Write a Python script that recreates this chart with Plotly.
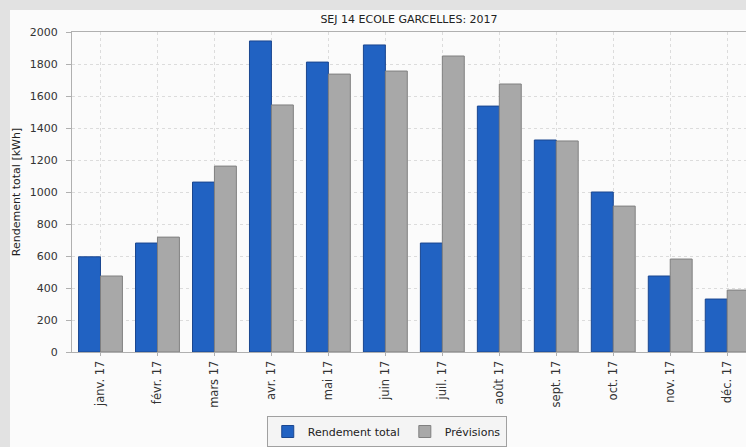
import plotly.graph_objects as go

# data
mois = ['janv. 17', 'févr. 17', 'mars 17', 'avr. 17', 'mai 17', 'juin 17',
        'juil. 17', 'août 17', 'sept. 17', 'oct. 17', 'nov. 17', 'déc. 17']
rendement = [595, 681, 1062, 1944, 1812, 1919, 681, 1537, 1325, 1000, 475, 331]
previsions = [475, 718, 1162, 1544, 1737, 1756, 1850, 1675, 1319, 912, 581, 387]

font_family = 'DejaVu Sans'

fig = go.Figure()

fig.add_trace(go.Bar(x=mois, y=rendement, name='Rendement total',
                     marker=dict(color='#2162c2', line=dict(color='#1a468f', width=1))))
fig.add_trace(go.Bar(x=mois, y=previsions, name='Prévisions',
                     marker=dict(color='#a8a8a8', line=dict(color='#808080', width=1))))

# white panel on the grey window background
fig.add_shape(type='rect', xref='paper', yref='paper',
              x0=-62/674, x1=1.02, y0=-95/320, y1=(352-10)/320,
              fillcolor='#fbfbfb', line=dict(width=0), layer='below')

fig.update_layout(
    width=746, height=447,
    margin=dict(l=72, r=0, t=32, b=95),
    paper_bgcolor='#e2e2e2',
    plot_bgcolor='#fafafa',
    barmode='group', bargap=0.23, bargroupgap=0,
    font=dict(family=font_family, size=11, color='#333333'),
    title=dict(text='SEJ 14 ECOLE GARCELLES: 2017', x=409/746, xanchor='center',
               y=1 - 19/447, yanchor='middle', yref='container',
               font=dict(size=11, color='#222222')),
    showlegend=True,
    legend=dict(orientation='h', x=0.467, xanchor='center', y=-0.2, yanchor='top',
                bgcolor='#f4f4f4', bordercolor='#a0a0a0', borderwidth=1,
                font=dict(size=11, color='#222222')),
)

fig.update_xaxes(range=[-0.5, 11.33], tickangle=-90, showgrid=True, automargin=False,
                 gridcolor='#dcdcdc', griddash='dot', gridwidth=1,
                 showline=True, linecolor='#b0b0b0', mirror=True,
                 ticks='outside', ticklen=3, tickcolor='#b0b0b0',
                 tickfont=dict(size=11.5))
fig.update_yaxes(range=[0, 2000], dtick=200, showgrid=True, automargin=False,
                 gridcolor='#dcdcdc', griddash='dot', gridwidth=1,
                 showline=True, linecolor='#b0b0b0', mirror=True,
                 ticks='outside', ticklen=5, tickcolor='#b0b0b0',
                 ticklabelstandoff=6, zeroline=False,
                 title=dict(text='Rendement total [kWh]', standoff=6,
                            font=dict(size=11, color='#222222')))

# drop the default page margin so the figure sits at the window origin
fig.write_html("out.html", config={'displayModeBar': False},
               post_script="document.body.style.margin='0';")
